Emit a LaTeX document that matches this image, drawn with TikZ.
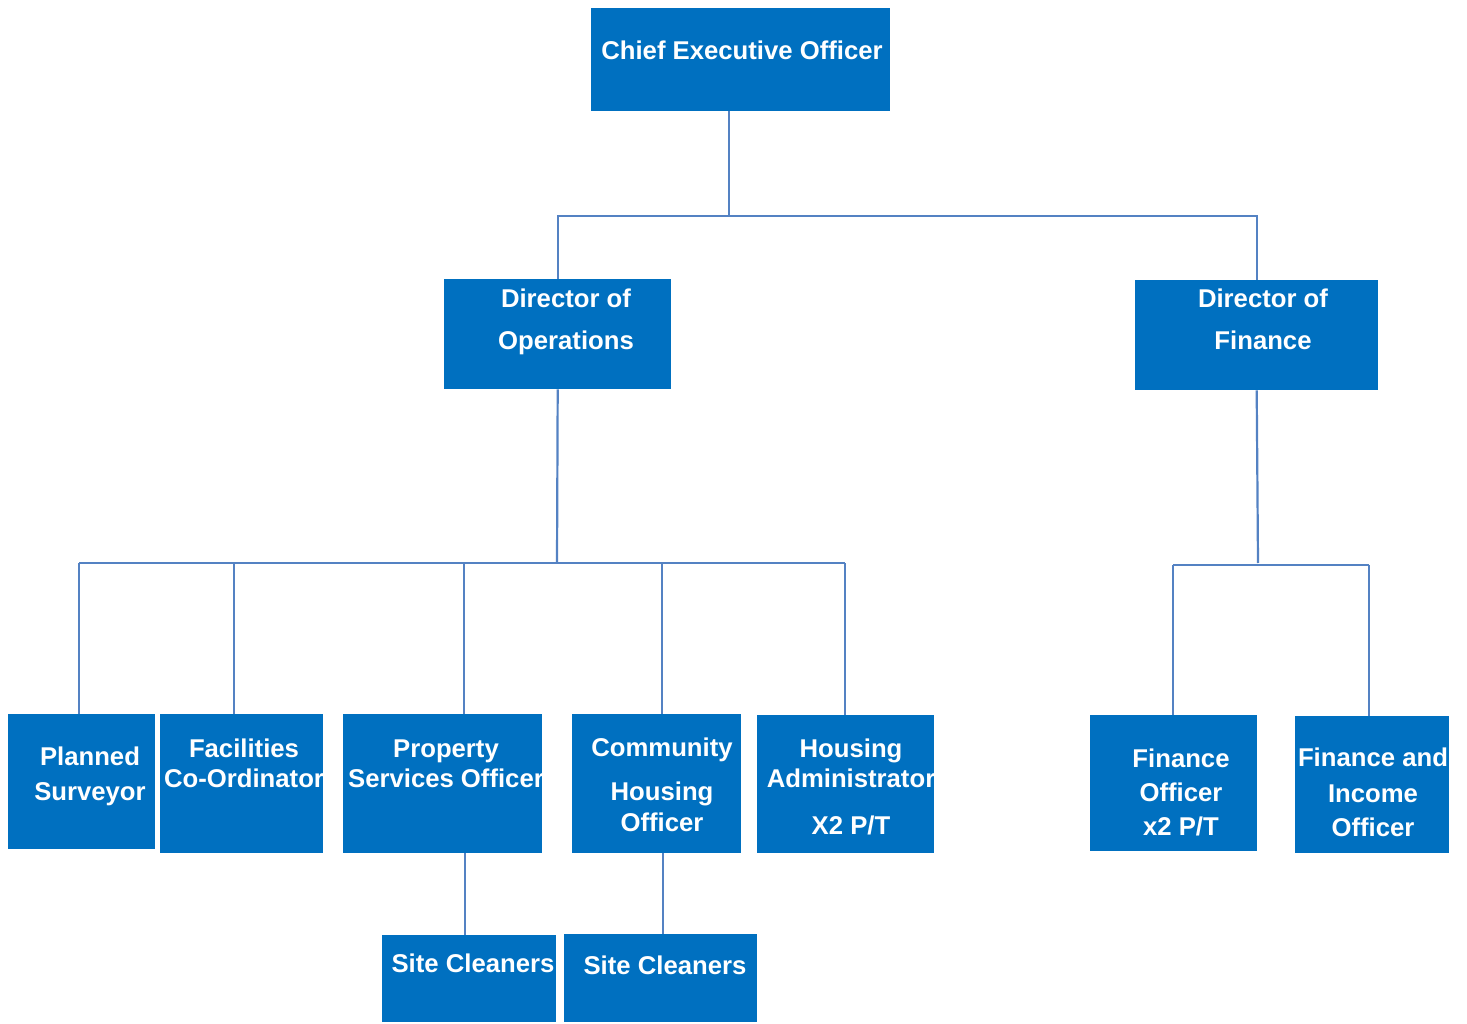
\documentclass[tikz,border=0pt]{standalone}
\usepackage{fontspec}
\setmainfont{Liberation Sans}
\usepackage{xcolor}
\usepackage{tikz}
\usetikzlibrary{positioning}
\definecolor{postblue}{RGB}{0,112,192}
\definecolor{linkblue}{RGB}{84,130,195}

\tikzset{
    post/.style={fill=postblue, inner sep=0pt, anchor=north west},
    posttext/.style={text=white, font=\bfseries\fontsize{25.7}{30}\selectfont,
        align=center, inner sep=0pt, anchor=north},
    link/.style={draw=linkblue, line width=2.2pt}
}

\begin{document}
\begin{tikzpicture}[x=1pt, y=-1pt]
    \useasboundingbox (0,0) rectangle (1467,1024);

    % Chief executive
    \node[post, minimum width=299, minimum height=103] (ceo) at (591,8) {};
    \node[posttext] (ceo-t) at (742,41) {Chief Executive Officer};

    % Directors
    \node[post, minimum width=227, minimum height=110] (dops) at (444,279) {};
    \node[posttext] (dops-t) at (566,289) {Director of\\[12pt]Operations};
    \node[post, minimum width=243, minimum height=110] (dfin) at (1135,280) {};
    \node[posttext] (dfin-t) at (1263,289) {Director of\\[12pt]Finance};

    % Operations staff
    \node[post, minimum width=147, minimum height=135] (plan) at (8,714) {};
    \node[posttext] (plan-t) at (90,747) {Planned\\[5pt]Surveyor};
    \node[post, minimum width=163, minimum height=139] (facil) at (160,714) {};
    \node[posttext] (facil-t) at (244,739) {Facilities\\Co-Ordinator};
    \node[post, minimum width=199, minimum height=139] (prop) at (343,714) {};
    \node[posttext] (prop-t) at (446,740) {Property\\Services Officer};
    \node[post, minimum width=169, minimum height=139] (comm) at (572,714) {};
    \node[posttext] (comm-t) at (662,738) {Community\\[14pt]Housing\\[1pt]Officer};
    \node[post, minimum width=177, minimum height=138] (hadm) at (757,715) {};
    \node[posttext] (hadm-t) at (851,739) {Housing\\Administrator\\[17pt]X2 P/T};

    % Finance staff
    \node[post, minimum width=167, minimum height=136] (fo) at (1090,715) {};
    \node[posttext] (fo-t) at (1181,749) {Finance\\[4pt]Officer\\[4pt]x2 P/T};
    \node[post, minimum width=154, minimum height=137] (fi) at (1295,716) {};
    \node[posttext] (fi-t) at (1373,748) {Finance and\\[6pt]Income\\[4pt]Officer};

    % Cleaners
    \node[post, minimum width=174, minimum height=87] (sc1) at (382,935) {};
    \node[posttext] (sc1-t) at (473,954) {Site Cleaners};
    \node[post, minimum width=193, minimum height=88] (sc2) at (564,934) {};
    \node[posttext] (sc2-t) at (665,956) {Site Cleaners};

    % Connections
    \coordinate (topbus) at (729,216);
    \coordinate (opsbus) at (557,563);
    \coordinate (finbus) at (1258,565);
    \coordinate (c1) at (465,900);
    \coordinate (c2) at (663,900);

    \draw[link] (ceo.south -| topbus) -- (topbus);
    \draw[link] (dops.north) |- (topbus) -| (dfin.north);

    \draw[link] (dops.south) -- (opsbus);
    \draw[link] (79,0 |- opsbus) -- (845,0 |- opsbus);
    \foreach \n/\x in {plan/79, facil/234, prop/464, comm/662, hadm/845} {
        \draw[link] (\x,0 |- opsbus) -- (\x,0 |- \n.north);
    }

    \draw[link] (dfin.south) -- (finbus |- 0,563);
    \draw[link] (1173,0 |- finbus) -- (1369,0 |- finbus);
    \foreach \n/\x in {fo/1173, fi/1369} {
        \draw[link] (\x,0 |- finbus) -- (\x,0 |- \n.north);
    }

    \draw[link] (prop.south -| c1) -- (sc1.north -| c1);
    \draw[link] (comm.south -| c2) -- (sc2.north -| c2);
\end{tikzpicture}
\end{document}
